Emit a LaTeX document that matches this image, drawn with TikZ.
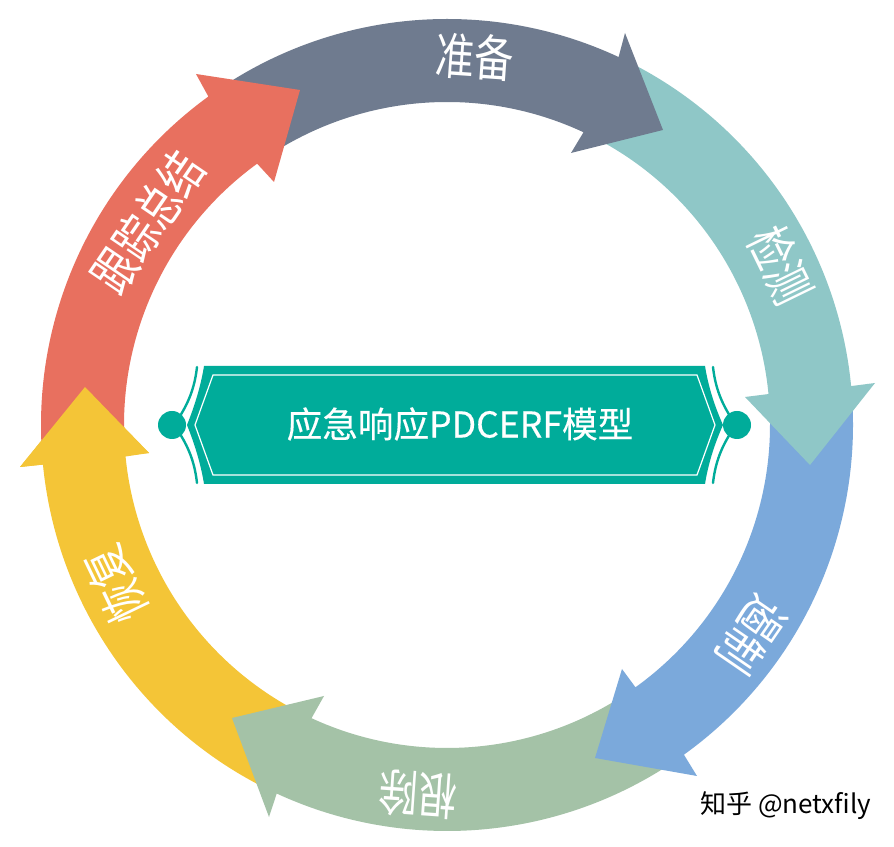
\documentclass[tikz,border=0pt]{standalone}
\usepackage{fontspec}
\setmainfont{Noto Sans CJK SC}
\newfontfamily\titlefont[FakeBold=0.35]{Noto Sans CJK SC}
\definecolor{cgray}{HTML}{6F7B8F}
\definecolor{cred}{HTML}{E8705F}
\definecolor{cteal}{HTML}{8FC7C7}
\definecolor{cblue}{HTML}{7BA9DB}
\definecolor{cgreen}{HTML}{A4C2A7}
\definecolor{cyellow}{HTML}{F4C537}
\definecolor{cplate}{HTML}{00AC9A}
\newcommand{\ringarrow}[6]{%
  \fill[#1] ([shift={(#2:406)}]cen) arc[start angle=#2,end angle=#3,radius=406]
    -- #4 -- #5 -- #6 -- ([shift={(#3:323)}]cen)
    arc[start angle=#3,end angle=#2,radius=323] -- cycle;}
\tikzset{
  ringlabel/.style={text=white,font=\fontsize{39}{41}\selectfont,inner sep=0pt,yscale=1.28},
  titlelabel/.style={text=white,font=\titlefont\fontsize{35.6}{37}\selectfont,inner sep=0pt},
  marklabel/.style={text=black,font=\fontsize{26}{28}\selectfont,inner sep=0pt},
  thinarc/.style={draw=cplate,line width=2.4pt,line cap=round}
}
\begin{document}
\begin{tikzpicture}[x=1pt,y=1pt]
\useasboundingbox (0,0) rectangle (894,846);
\fill[white] (0,0) rectangle (894,846);
\coordinate (cen) at (447,421);
% ring: each head lies over the tail of the next arrow
\ringarrow{cyellow}{-117}{-174.4}{(20,379)}{(85,459)}{(149,393)}
\ringarrow{cgreen}{-57}{-114.8}{(269,29)}{(232,128)}{(324,150)}
\ringarrow{cblue}{3}{-54.3}{(697,70)}{(595,88)}{(622,177)}
\ringarrow{cteal}{63}{5.5}{(875,463)}{(810,381)}{(745,449)}
\ringarrow{cgray}{123}{65}{(625,813)}{(663,716)}{(571,693)}
\ringarrow{cred}{183}{126}{(196,772)}{(300,756)}{(274,664)}
\fill[cyellow] (20,379) -- (85,459) -- (149,393) -- cycle;
% labels on the ring
\node[rotate=-4,ringlabel] (zhunbei) at (475,789) {准备};
\node[rotate=-64,ringlabel] (jiance) at (781,581) {检测};
\node[rotate=-124.5,ringlabel] (ezhi) at (752,211) {遏制};
\node[rotate=-184,ringlabel] (genchu) at (418,51) {根除};
\node[rotate=-244.3,ringlabel] (huifu) at (115,261) {恢复};
\node[rotate=55.8,ringlabel] (genzong) at (148,624) {跟踪总结};
% centre plate
\fill[cplate] (204,480) .. controls (201,461) and (195,441) .. (187,421)
  .. controls (195,401) and (201,381) .. (204,362) -- (705,362)
  .. controls (708,381) and (714,401) .. (723,421)
  .. controls (714,441) and (708,461) .. (705,480) -- cycle;
\draw[white,line width=1.2pt] (213,471) -- (195,421) -- (213,371) -- (697,371) -- (715,421) -- (697,471) -- cycle;
\draw[thinarc] (197,479) .. controls (195,461) and (190,446) .. (180,430);
\draw[thinarc] (197,363) .. controls (195,381) and (190,396) .. (180,412);
\draw[thinarc] (713,479) .. controls (715,461) and (720,446) .. (730,430);
\draw[thinarc] (713,363) .. controls (715,381) and (720,396) .. (730,412);
\fill[cplate] (172,421) circle[radius=14];
\fill[cplate] (737,421) circle[radius=14];
\node[titlelabel] (title) at (460,422) {应急响应PDCERF模型};
\node[marklabel,anchor=west] (mark) at (700,40) {知乎 @netxfily};
\end{tikzpicture}
\end{document}
